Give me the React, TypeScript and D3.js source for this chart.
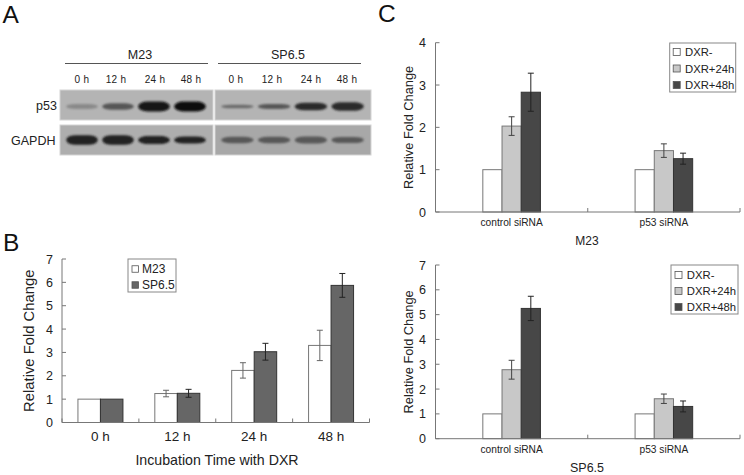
import React from "react";
import * as d3 from "d3";

const timeLabels = ["0 h", "12 h", "24 h", "48 h"];
const m23Values = [1, 1.24, 2.23, 3.3];
const m23Err = [0, 0.14, 0.33, 0.65];
const sp65Values = [1, 1.25, 3.03, 5.87];
const sp65Err = [0, 0.17, 0.36, 0.51];

const siCategories = ["control siRNA", "p53 siRNA"];
const cTopMinus = [1, 1];
const cTop24 = [2.03, 1.45];
const cTop24Err = [0.22, 0.16];
const cTop48 = [2.83, 1.26];
const cTop48Err = [0.45, 0.13];
const cBotMinus = [1, 1];
const cBot24 = [2.78, 1.61];
const cBot24Err = [0.38, 0.19];
const cBot48 = [5.25, 1.3];
const cBot48Err = [0.49, 0.22];

// band intensity (0-1) and half-thickness for the blot
const p53M23 = [0.22, 0.56, 1, 1.03];
const p53SP = [0.42, 0.56, 0.85, 0.85];
const p53M23Thick = [2.6, 3.2, 5, 5];
const p53SPThick = [1.8, 2.4, 3.8, 4.2];
const gapdhM23 = [0.92, 0.92, 0.92, 0.92];
const gapdhSP = [0.55, 0.55, 0.55, 0.55];
const gapdhM23Thick = [4.8, 4.8, 4, 3.6];
const gapdhSPThick = [3.2, 3.2, 3.6, 3.1];

const FONT = "'Liberation Sans', Arial, sans-serif";
const TXT = "#222";
const AXIS = "#777";

type Series = { name: string; values: number[]; err?: number[]; fill: string; stroke: string; errStroke: string };

function BarPanel(props: {
  cats: string[]; series: Series[]; yMax: number; x0: number; x1: number; yTop: number; yBot: number;
  barW: number; catFont: number; tickFont: number; titleFont: number; catY: number;
  yLabelX: number; tickX: number;
}) {
  const { cats, series, yMax, x0, x1, yTop, yBot, barW, catFont, tickFont, titleFont, catY, yLabelX, tickX } = props;
  const y = d3.scaleLinear().domain([0, yMax]).range([yBot, yTop]);
  const x = d3.scaleBand<string>().domain(cats).range([x0, x1]);
  const ticks = d3.range(0, yMax + 1);
  const boundaries = [...cats.map((c) => x(c)!), x1];
  const midY = (yTop + yBot) / 2;
  return (
    <g>
      {series.map((s, si) =>
        cats.map((c, i) => {
          const bx = x(c)! + x.bandwidth() / 2 - (barW * series.length) / 2 + si * barW;
          const cx = bx + barW / 2;
          const e = s.err ? s.err[i] : 0;
          return (
            <g key={s.name + c}>
              <rect x={bx} y={y(s.values[i])} width={barW} height={yBot - y(s.values[i])} fill={s.fill} stroke={s.stroke} strokeWidth={1} />
              {e > 0 && (
                <g stroke={s.errStroke} strokeWidth={1} fill="none">
                  <line x1={cx} x2={cx} y1={y(s.values[i] + e)} y2={y(s.values[i] - e)} />
                  <line x1={cx - 3} x2={cx + 3} y1={y(s.values[i] + e)} y2={y(s.values[i] + e)} />
                  <line x1={cx - 3} x2={cx + 3} y1={y(s.values[i] - e)} y2={y(s.values[i] - e)} />
                </g>
              )}
            </g>
          );
        })
      )}
      <line x1={x0} x2={x0} y1={yTop} y2={yBot} stroke={AXIS} />
      <line x1={x0} x2={x1} y1={yBot} y2={yBot} stroke={AXIS} />
      {ticks.map((t) => (
        <g key={t}>
          <line x1={x0} x2={x0 + 4} y1={y(t)} y2={y(t)} stroke={AXIS} />
          <text x={tickX} y={y(t) + tickFont * 0.36} textAnchor="end" fontSize={tickFont} fill={TXT} fontFamily={FONT}>{t}</text>
        </g>
      ))}
      {boundaries.map((b, i) => (
        <line key={i} x1={b} x2={b} y1={yBot} y2={yBot - 4} stroke={AXIS} />
      ))}
      {cats.map((c) => (
        <text key={c} x={x(c)! + x.bandwidth() / 2} y={catY} textAnchor="middle" fontSize={catFont} fill={TXT} fontFamily={FONT}>{c}</text>
      ))}
      <text transform={`translate(${yLabelX},${midY}) rotate(-90)`} textAnchor="middle" fontSize={titleFont} fill={TXT} fontFamily={FONT}>Relative Fold Change</text>
    </g>
  );
}

function Legend(props: { x: number; y: number; w: number; h: number; items: { name: string; fill: string }[]; font: number; rowH: number; swatch: number; pad: number; first: number; gap: number }) {
  const { x, y, w, h, items, font, rowH, swatch, pad, first, gap } = props;
  return (
    <g>
      <rect x={x} y={y} width={w} height={h} fill="#fff" stroke="#888" strokeWidth={1} />
      {items.map((it, i) => {
        const cy = y + first + i * rowH;
        return (
          <g key={it.name}>
            <rect x={x + pad} y={cy - swatch / 2} width={swatch} height={swatch} fill={it.fill} stroke="#555" strokeWidth={0.8} />
            <text x={x + pad + swatch + gap} y={cy + font * 0.36} fontSize={font} fill={TXT} fontFamily={FONT}>{it.name}</text>
          </g>
        );
      })}
    </g>
  );
}

function BlotRow(props: { x: number; y: number; w: number; h: number; dark: number[]; thick: number[]; bg: string; dy: number }) {
  const { x, y, w, h, dark, thick, bg, dy } = props;
  const bx = d3.scaleBand<number>().domain([0, 1, 2, 3]).range([x + 4, x + w - 5]);
  return (
    <g>
      <rect x={x} y={y} width={w} height={h} fill={bg} stroke="#d4d4d4" strokeWidth={1} />
      {dark.map((d, i) => {
        const g = Math.round(170 - 150 * d);
        const bw = bx.bandwidth() * 0.88;
        return (
          <rect key={i} x={bx(i)! + bx.bandwidth() / 2 - bw / 2} y={y + h / 2 + dy - thick[i]} width={bw} height={thick[i] * 2}
            rx={bw * 0.3} ry={thick[i]} fill={`rgb(${g},${g},${g})`} filter="url(#b1)" />
        );
      })}
    </g>
  );
}

export default function App() {
  const legC = [
    { name: "DXR-", fill: "#ffffff" },
    { name: "DXR+24h", fill: "#c8c8c8" },
    { name: "DXR+48h", fill: "#474747" },
  ];
  const mk = (a: number[], b: number[], be: number[], c: number[], ce: number[]): Series[] => [
    { name: "DXR-", values: a, fill: "#fff", stroke: "#777", errStroke: "#777" },
    { name: "DXR+24h", values: b, err: be, fill: "#c8c8c8", stroke: "#777", errStroke: "#444" },
    { name: "DXR+48h", values: c, err: ce, fill: "#474747", stroke: "#333", errStroke: "#222" },
  ];
  const blotTexts = (cx: number[], y: number) =>
    timeLabels.map((t, i) => (
      <text key={t} x={cx[i]} y={y} textAnchor="middle" fontSize={10} letterSpacing={0.3} fill={TXT} fontFamily={FONT}>{t}</text>
    ));
  return (
    <svg width={744} height={475} style={{ position: "absolute", left: 0, top: 0, background: "#fff" }}>
      <defs>
        <filter id="b1" x="-30%" y="-80%" width="160%" height="260%"><feGaussianBlur stdDeviation="1" /></filter>
      </defs>

      {/* Panel A */}
      <text x={2.5} y={22.5} fontSize={24.5} fill="#111" fontFamily={FONT}>A</text>
      <text x={140} y={59} textAnchor="middle" fontSize={12.5} fill={TXT} fontFamily={FONT}>M23</text>
      <text x={288} y={59} textAnchor="middle" fontSize={12.5} fill={TXT} fontFamily={FONT}>SP6.5</text>
      <line x1={65} x2={208} y1={63.5} y2={63.5} stroke="#555" />
      <line x1={218} x2={361} y1={63.5} y2={63.5} stroke="#555" />
      {blotTexts([82, 116, 155, 191], 83)}
      {blotTexts([236, 272, 311, 347], 83)}
      <text x={36} y={110} fontSize={12.5} fill={TXT} fontFamily={FONT}>p53</text>
      <text x={11} y={145} fontSize={12.5} fill={TXT} fontFamily={FONT}>GAPDH</text>
      <BlotRow x={60} y={90} w={153} h={30} dark={p53M23} thick={p53M23Thick} bg="#b4b4b4" dy={1.5} />
      <BlotRow x={215} y={90} w={156} h={30} dark={p53SP} thick={p53SPThick} bg="#b4b4b4" dy={1.5} />
      <BlotRow x={60} y={125} w={153} h={30} dark={gapdhM23} thick={gapdhM23Thick} bg="#aeaeae" dy={0} />
      <BlotRow x={215} y={125} w={156} h={30} dark={gapdhSP} thick={gapdhSPThick} bg="#a8a8a8" dy={0} />

      {/* Panel B */}
      <text x={3} y={251} fontSize={24.5} fill="#111" fontFamily={FONT}>B</text>
      <BarPanel cats={timeLabels}
        series={[
          { name: "M23", values: m23Values, err: m23Err, fill: "#fff", stroke: "#777", errStroke: "#666" },
          { name: "SP6.5", values: sp65Values, err: sp65Err, fill: "#666", stroke: "#333", errStroke: "#222" },
        ]}
        yMax={7} x0={62} x1={369.5} yTop={259} yBot={422.5} barW={22.5} catFont={13.5} tickFont={12.5} titleFont={14.8} catY={441} yLabelX={34} tickX={53} />
      <text x={217} y={465} textAnchor="middle" fontSize={14.2} fill={TXT} fontFamily={FONT}>Incubation Time with DXR</text>
      <Legend x={128} y={259} w={48} h={33} items={[{ name: "M23", fill: "#fff" }, { name: "SP6.5", fill: "#666" }]} font={12} rowH={16} swatch={6.5} pad={4} first={10} gap={3.5} />

      {/* Panel C */}
      <text x={378} y={22} fontSize={24.5} fill="#111" fontFamily={FONT}>C</text>
      <BarPanel cats={siCategories} series={mk(cTopMinus, cTop24, cTop24Err, cTop48, cTop48Err)}
        yMax={4} x0={435.5} x1={740} yTop={42.7} yBot={212} barW={19.2} catFont={10.2} tickFont={12.5} titleFont={12.8} catY={226} yLabelX={413} tickX={426} />
      <text x={587} y={245} textAnchor="middle" fontSize={12} fill={TXT} fontFamily={FONT}>M23</text>
      <Legend x={669.7} y={43} w={66} h={49} items={legC} font={11.3} rowH={16.5} swatch={7} pad={3.5} first={9} gap={4.8} />

      <BarPanel cats={siCategories} series={mk(cBotMinus, cBot24, cBot24Err, cBot48, cBot48Err)}
        yMax={7} x0={435.5} x1={740} yTop={265} yBot={438.7} barW={19.2} catFont={10.2} tickFont={12.5} titleFont={12.8} catY={453} yLabelX={413} tickX={426} />
      <text x={587} y={472} textAnchor="middle" fontSize={12.5} fill={TXT} fontFamily={FONT}>SP6.5</text>
      <Legend x={671} y={265} w={67} h={49} items={legC} font={11.3} rowH={16} swatch={7} pad={4} first={10} gap={4.8} />
    </svg>
  );
}
